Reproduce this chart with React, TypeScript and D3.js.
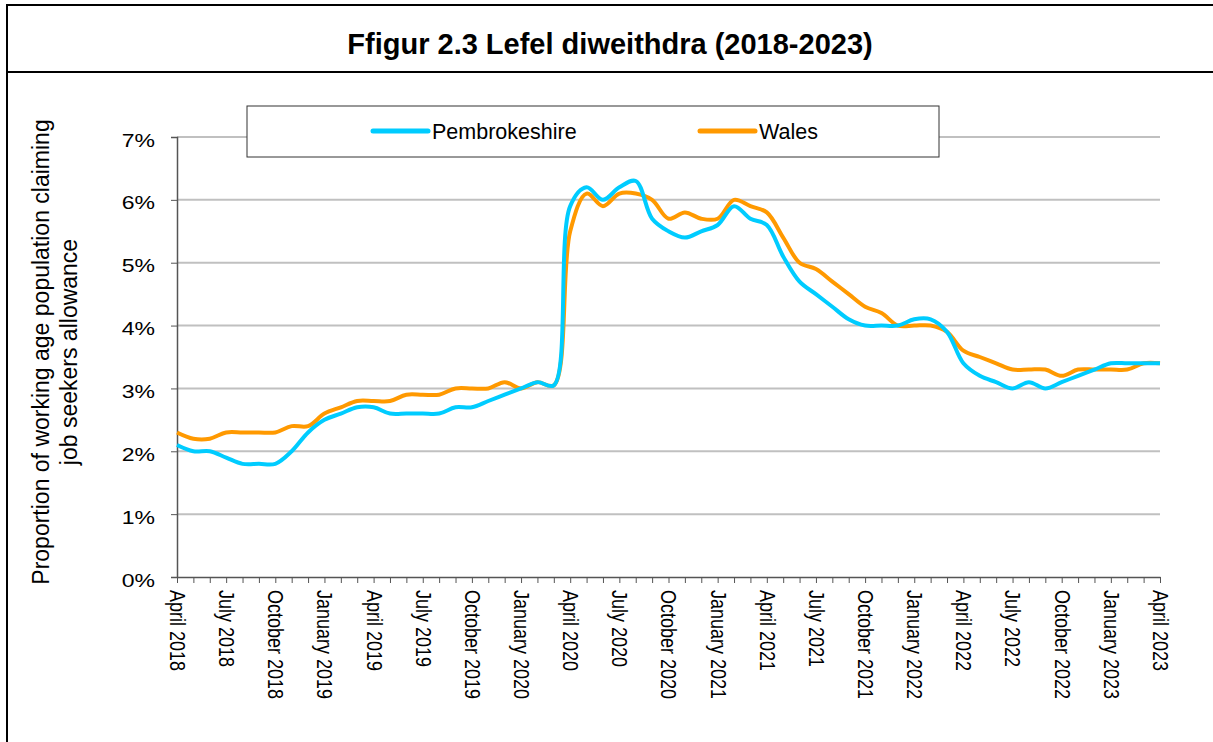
import React, { useRef, useEffect } from "react";
import * as d3 from "d3";

// monthly, April 2018 .. April 2023
const monthNames = ["January", "February", "March", "April", "May", "June", "July", "August", "September", "October", "November", "December"];
const startYear = 2018;
const startMonth = 3; // April

const pembrokeshire = [
  2.1, 2.0, 2.0, 1.9, 1.8, 1.8, 1.8, 2.0, 2.3, 2.5, 2.6, 2.7,
  2.7, 2.6, 2.6, 2.6, 2.6, 2.7, 2.7, 2.8, 2.9, 3.0, 3.1, 3.05,
  5.9, 6.2, 6.0, 6.2, 6.3, 5.7, 5.5, 5.4, 5.5, 5.6, 5.9, 5.7,
  5.6, 5.1, 4.7, 4.5, 4.3, 4.1, 4.0, 4.0, 4.0, 4.1, 4.1, 3.9,
  3.4, 3.2, 3.1, 3.0, 3.1, 3.0, 3.1, 3.2, 3.3, 3.4, 3.4, 3.4, 3.4,
];
const wales = [
  2.3, 2.2, 2.2, 2.3, 2.3, 2.3, 2.3, 2.4, 2.4, 2.6, 2.7, 2.8,
  2.8, 2.8, 2.9, 2.9, 2.9, 3.0, 3.0, 3.0, 3.1, 3.0, 3.1, 3.05,
  5.5, 6.1, 5.9, 6.1, 6.1, 6.0, 5.7, 5.8, 5.7, 5.7, 6.0, 5.9,
  5.8, 5.4, 5.0, 4.9, 4.7, 4.5, 4.3, 4.2, 4.0, 4.0, 4.0, 3.9,
  3.6, 3.5, 3.4, 3.3, 3.3, 3.3, 3.2, 3.3, 3.3, 3.3, 3.3, 3.4, 3.4,
];
const yTicks = [0, 1, 2, 3, 4, 5, 6, 7];

const seriesList = [
  { name: "Pembrokeshire", values: pembrokeshire, color: "#00CCFF" },
  { name: "Wales", values: wales, color: "#FF9900" },
];

const W = 1213;
const H = 742;

const App = () => {
  const svgRef = useRef<SVGSVGElement>(null);

  useEffect(() => {
    const svg = d3.select(svgRef.current);
    svg.selectAll("*").remove();
    const font = "Arial, 'Liberation Sans', sans-serif";

    const margin = { left: 177, right: 53, top: 137, bottom: 165 };
    const width = W - margin.left - margin.right;
    const height = H - margin.top - margin.bottom;

    // outer frame + title band
    svg.append("rect").attr("x", 7).attr("y", 5).attr("width", W + 10).attr("height", H + 10)
      .attr("fill", "#fff").attr("stroke", "#000").attr("stroke-width", 2);
    svg.append("line").attr("x1", 7).attr("x2", W).attr("y1", 72).attr("y2", 72)
      .attr("stroke", "#000").attr("stroke-width", 2);
    svg.append("text").attr("x", 610).attr("y", 54).attr("text-anchor", "middle")
      .style("font-family", font).style("font-size", "29px").style("font-weight", "bold")
      .text("Ffigur 2.3 Lefel diweithdra (2018-2023)");

    const n = pembrokeshire.length;
    const x = d3.scaleLinear().domain([0, n - 1]).range([0, width]);
    const y = d3.scaleLinear().domain([0, 7]).range([height, 0]);

    const g = svg.append("g").attr("transform", `translate(${margin.left},${margin.top})`);

    // gridlines
    g.selectAll("line.grid")
      .data(yTicks.filter(t => t > 0))
      .join("line")
      .attr("class", "grid")
      .attr("x1", 0).attr("x2", width)
      .attr("y1", d => y(d)).attr("y2", d => y(d))
      .attr("stroke", "#c0c0c0").attr("stroke-width", 2);

    // y axis
    const yAxis = d3.axisLeft(y).tickValues(yTicks).tickFormat(d => `${d}%`).tickSize(6);
    const ya = g.append("g").call(yAxis);
    ya.select(".domain").attr("stroke", "#555").attr("stroke-width", 1.5);
    ya.selectAll(".tick line").attr("stroke", "#555");
    ya.selectAll("text")
      .style("font-family", font).style("font-size", "18px").attr("fill", "#000")
      .attr("transform", "scale(1.28,1)")
      .attr("x", -22 / 1.28)
      .attr("dy", "0.5em");

    // x axis: monthly ticks, labels every quarter
    const labelOf = (i: number) => {
      const m = (startMonth + i) % 12;
      const yr = startYear + Math.floor((startMonth + i) / 12);
      return `${monthNames[m]} ${yr}`;
    };
    const xAxis = d3.axisBottom(x)
      .tickValues(d3.range(n))
      .tickSize(6)
      .tickSizeOuter(0)
      .tickFormat(d => (+d % 3 === 0 ? labelOf(+d) : ""));
    const xa = g.append("g").attr("transform", `translate(0,${height})`).call(xAxis);
    xa.select(".domain").attr("stroke", "#555").attr("stroke-width", 1.5);
    xa.selectAll(".tick line").attr("stroke", "#555");
    xa.selectAll("text")
      .style("font-family", font).style("font-size", "18px").attr("fill", "#000")
      .attr("transform", "scale(1.2,1) rotate(90)")
      .attr("x", 13).attr("y", 0).attr("dy", "0.35em")
      .style("text-anchor", "start");

    // lines
    const line = d3.line<number>()
      .x((_, i) => x(i))
      .y(d => y(d))
      .curve(d3.curveCatmullRom.alpha(0.5));
    seriesList.slice().reverse().forEach(s => {
      g.append("path")
        .datum(s.values)
        .attr("fill", "none")
        .attr("stroke", s.color)
        .attr("stroke-width", 4)
        .attr("stroke-linejoin", "round")
        .attr("d", line);
    });

    // legend
    const legend = svg.append("g");
    legend.append("rect").attr("x", 247).attr("y", 106).attr("width", 692).attr("height", 51)
      .attr("fill", "#fff").attr("stroke", "#333").attr("stroke-width", 1);
    const legendX = [373, 700];
    seriesList.forEach((s, i) => {
      legend.append("line").attr("x1", legendX[i]).attr("x2", legendX[i] + 55)
        .attr("y1", 131).attr("y2", 131)
        .attr("stroke", s.color).attr("stroke-width", 5).attr("stroke-linecap", "round");
      legend.append("text").attr("x", legendX[i] + 59).attr("y", 131).attr("dy", "0.36em")
        .style("font-family", font).style("font-size", "21.5px").text(s.name);
    });

    // y axis title
    const yTitle = svg.append("text")
      .attr("transform", `translate(49,352) rotate(-90)`)
      .attr("text-anchor", "middle")
      .style("font-family", font).style("font-size", "23px");
    yTitle.append("tspan").attr("x", 0).attr("y", 0).text("Proportion of working age population claiming");
    yTitle.append("tspan").attr("x", 0).attr("y", 28).text("job seekers allowance");
  }, []);

  return (
    <div style={{ position: "absolute", left: 0, top: 0, width: W, height: H, overflow: "hidden" }}>
      <svg ref={svgRef} width={W} height={H} />
    </div>
  );
};

export default App;
